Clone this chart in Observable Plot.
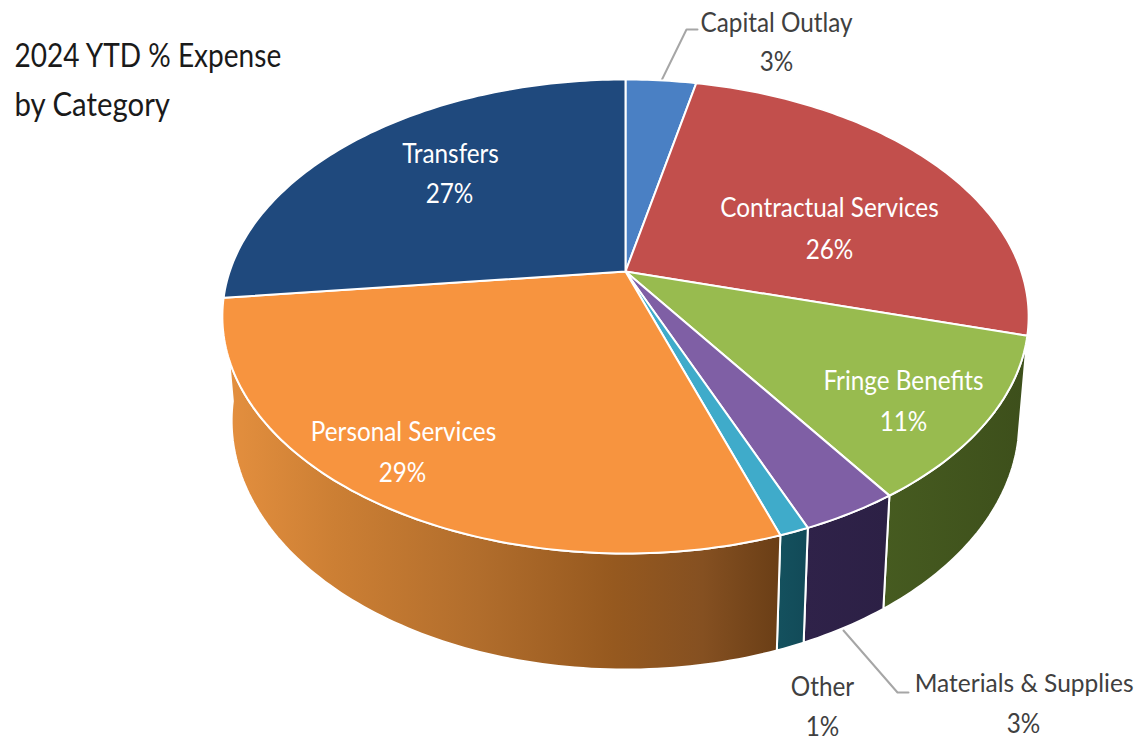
<!DOCTYPE html>
<html>
<head>
<meta charset="utf-8">
<script src="https://cdn.jsdelivr.net/npm/d3@7"></script>
<script src="https://cdn.jsdelivr.net/npm/@observablehq/plot@0.6"></script>
<style>html,body{margin:0;padding:0;background:#fff}svg{display:block}</style>
</head>
<body>
<div id="chart"></div>
<script>
// Data, clockwise from 12 o'clock
const categories = ["Capital Outlay","Contractual Services","Fringe Benefits","Materials & Supplies","Other","Personal Services","Transfers"];
const printedPercent = ["3%","26%","11%","3%","1%","29%","27%"];
// Slice shares as they are drawn in the picture (% of the circle)
const drawnShare = [3.4,25.9,11.2,3.3,1.0,28.4,26.8];
const topColors = ["#4a80c4","#c24f4c","#98bb4f","#7f5fa5","#3fabca","#f7943f","#1f497d"];
const wallColors = [null,null,["#465b20","#3d4f1b"],["#2f2249","#2c2045"],["#14515e","#124a58"],null,null];
const orangeWallStops = [[0,"#e5903f"],[0.2,"#cc7f34"],[0.46,"#b16d2c"],[0.7,"#96591f"],[0.86,"#855021"],[1,"#6a3e16"]];

// Layout: a tilted circle in perspective
const W = 1136, H = 741;
const cx = 625, cy = 271, dist = 5.27, fx = 2086, fy = 1204;
const wallScaleX = 0.977, wallScaleY = 1.05, wallCy = 373;
const rim = (deg) => {
  const t = deg * Math.PI / 180, s = Math.sin(t), c = Math.cos(t), k = dist + c;
  return {dx: fx * s / k, dy: -fy * c / k};
};
const topPoint = (deg) => { const p = rim(deg); return {x: cx + p.dx, y: cy + p.dy}; };
const basePoint = (deg) => { const p = rim(deg); return {x: cx + wallScaleX * p.dx, y: wallCy + wallScaleY * p.dy}; };

const cum = d3.cumsum(drawnShare);
const slices = categories.map((name, i) => ({
  name, i,
  a0: (i ? cum[i - 1] : 0) * 3.6,
  a1: cum[i] * 3.6
}));
const arcAngles = (a0, a1) => {
  const n = Math.max(2, Math.ceil((a1 - a0)));
  return d3.range(n + 1).map(j => a0 + (a1 - a0) * j / n);
};
const topFace = (s) => [{x: cx, y: cy}, ...arcAngles(s.a0, s.a1).map(topPoint), {x: cx, y: cy}];
const wallFace = (s) => {
  const a = arcAngles(s.a0, s.a1);
  const pts = [...a.map(topPoint), ...a.slice().reverse().map(basePoint)];
  pts.push(pts[0]);
  return pts;
};

const visibleWalls = slices.filter(s => ["Fringe Benefits","Materials & Supplies","Other","Personal Services"].includes(s.name));

const defs = () => {
  const d = d3.create("svg:defs");
  const g = (id, stops) => {
    const lg = d.append("linearGradient").attr("id", id).attr("x1", 0).attr("x2", 1).attr("y1", 0).attr("y2", 0);
    stops.forEach(([o, c]) => lg.append("stop").attr("offset", o).attr("stop-color", c));
  };
  visibleWalls.forEach(s => {
    if (wallColors[s.i]) g("wall" + s.i, [[0, wallColors[s.i][0]], [1, wallColors[s.i][1]]]);
    else g("wall" + s.i, orangeWallStops);
  });
  return d.node();
};

// Label placement (layout, not data)
const nameAt = [[776,31],[829,216],[903,389],[1133,691],[822,695],[403,440],[450,162]];
const pctAt  = [[776,70],[829,258],[903,430],[1023,732],[822,735],[402,481],[449,202]];
const inside = [false,true,true,false,false,true,true];
const labelFont = "Lato, 'Noto Sans', sans-serif";
const edgeName = "Materials & Supplies";
const labels = categories.flatMap((name, i) => [
  {t: name, x: nameAt[i][0], y: nameAt[i][1], c: inside[i] ? "#ffffff" : "#404040"},
  {t: printedPercent[i], x: pctAt[i][0], y: pctAt[i][1], c: inside[i] ? "#ffffff" : "#404040"}
]);
const titleLines = [{t: "2024 YTD % Expense", x: 14, y: 66}, {t: "by Category", x: 14, y: 115}];
const leaders = [
  [{x:661,y:80},{x:686,y:29},{x:697,y:29}],
  [{x:843,y:630},{x:897,y:692},{x:908,y:692}]
];

const chart = Plot.plot({
  width: W, height: H,
  marginTop: 0, marginRight: 0, marginBottom: 0, marginLeft: 0,
  x: {domain: [0, W], range: [0, W], axis: null},
  y: {domain: [0, H], range: [0, H], axis: null},
  style: {background: "#fff"},
  marks: [
    defs,
    ...leaders.map(l => Plot.line(l, {x: "x", y: "y", stroke: "#a6a6a6", strokeWidth: 2})),
    ...visibleWalls.map(s => Plot.line(wallFace(s), {x: "x", y: "y", fill: `url(#wall${s.i})`, stroke: "#fff", strokeWidth: 2})),
    ...slices.map(s => Plot.line(topFace(s), {x: "x", y: "y", fill: topColors[s.i], stroke: "#fff", strokeWidth: 2})),
    Plot.text(labels.filter(d => d.t !== edgeName), {x: "x", y: "y", text: "t", fill: "c", fontSize: 27, fontFamily: labelFont, textAnchor: "middle", lineAnchor: "bottom", className: "narrow-label"}),
    Plot.text(labels.filter(d => d.t === edgeName), {x: "x", y: "y", text: "t", fill: "c", fontSize: 24.5, fontFamily: labelFont, textAnchor: "end", lineAnchor: "bottom"}),
    Plot.text(titleLines.slice(0, 1), {x: "x", y: "y", text: "t", fill: "#1a1a1a", fontSize: 33, fontFamily: labelFont, textAnchor: "start", lineAnchor: "bottom", className: "narrow-title"}),
    Plot.text(titleLines.slice(1), {x: "x", y: "y", text: "t", fill: "#1a1a1a", fontSize: 33, fontFamily: labelFont, textAnchor: "start", lineAnchor: "bottom", className: "narrow-title2"})
  ]
});
document.getElementById("chart").append(chart);
// The reference's type is tall and narrow: condense glyphs once measured
const condense = (sel, k) => chart.querySelectorAll(sel + " text").forEach(t => {
  t.setAttribute("textLength", t.getComputedTextLength() * k);
  t.setAttribute("lengthAdjust", "spacingAndGlyphs");
});
condense(".narrow-label", 0.9);
condense(".narrow-title", 0.85);
condense(".narrow-title2", 0.89);
</script>
</body>
</html>
